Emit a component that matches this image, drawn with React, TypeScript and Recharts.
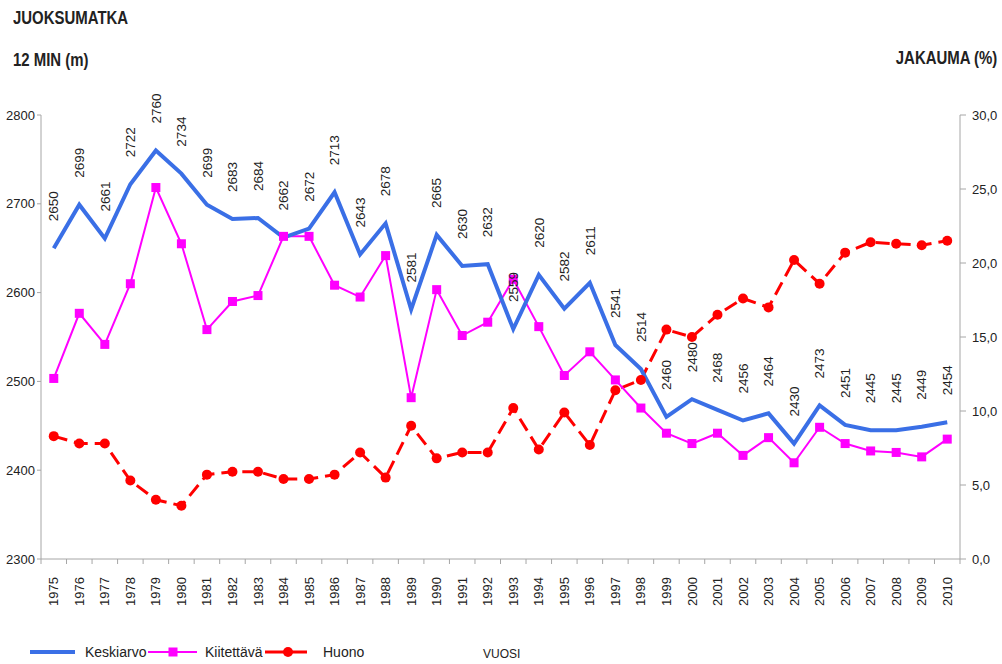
import React from "react";
import {
  LineChart,
  Line,
  XAxis,
  YAxis,
  LabelList,
} from "recharts";

const years = [
  "1975", "1976", "1977", "1978", "1979", "1980", "1981", "1982", "1983", "1984",
  "1985", "1986", "1987", "1988", "1989", "1990", "1991", "1992", "1993", "1994",
  "1995", "1996", "1997", "1998", "1999", "2000", "2001", "2002", "2003", "2004",
  "2005", "2006", "2007", "2008", "2009", "2010",
];

// metres, left axis
const keskiarvo = [
  2650, 2699, 2661, 2722, 2760, 2734, 2699, 2683, 2684, 2662,
  2672, 2713, 2643, 2678, 2581, 2665, 2630, 2632, 2559, 2620,
  2582, 2611, 2541, 2514, 2460, 2480, 2468, 2456, 2464, 2430,
  2473, 2451, 2445, 2445, 2449, 2454,
];

// percent, right axis
const kiitettava = [
  12.2, 16.6, 14.5, 18.6, 25.1, 21.3, 15.5, 17.4, 17.8, 21.8,
  21.8, 18.5, 17.7, 20.5, 10.9, 18.2, 15.1, 16.0, 18.9, 15.7,
  12.4, 14.0, 12.1, 10.2, 8.5, 7.8, 8.5, 7.0, 8.2, 6.5,
  8.9, 7.8, 7.3, 7.2, 6.9, 8.1,
];

const huono = [
  8.3, 7.8, 7.8, 5.3, 4.0, 3.6, 5.7, 5.9, 5.9, 5.4,
  5.4, 5.7, 7.2, 5.5, 9.0, 6.8, 7.2, 7.2, 10.2, 7.4,
  9.9, 7.7, 11.4, 12.1, 15.5, 15.0, 16.5, 17.6, 17.0, 20.2,
  18.6, 20.7, 21.4, 21.3, 21.2, 21.5,
];

const leftTicks = [2300, 2400, 2500, 2600, 2700, 2800];
const rightTicks = [0, 5, 10, 15, 20, 25, 30];

const data = years.map((y, i) => ({
  year: y,
  keskiarvo: keskiarvo[i],
  kiitettava: kiitettava[i],
  huono: huono[i],
}));

const FONT = "'Liberation Sans', Arial, sans-serif";
const BLUE = "#3a6fe6";
const MAGENTA = "#ff00ff";
const RED = "#ff0000";
const AXIS = "#a6a6a6";
const BAND = 919 / years.length;

function YearTick(props: any) {
  const { x, y, payload, index } = props;
  const last = index === years.length - 1;
  return (
    <g>
      <line x1={x - BAND / 2} y1={y} x2={x - BAND / 2} y2={y + 5} stroke={AXIS} />
      {last && <line x1={x + BAND / 2} y1={y} x2={x + BAND / 2} y2={y + 5} stroke={AXIS} />}
      <text
        x={x}
        y={y + 18}
        transform={`rotate(-90, ${x}, ${y + 18})`}
        textAnchor="end"
        dy="0.35em"
        fontSize={13}
        fill="#222"
        fontFamily={FONT}
      >
        {payload.value}
      </text>
    </g>
  );
}

function ValueLabel(props: any) {
  const { x, y, value } = props;
  const ty = y - 42;
  return (
    <text
      x={x}
      y={ty}
      transform={`rotate(-90, ${x}, ${ty})`}
      textAnchor="middle"
      dy="0.35em"
      fontSize={13.5}
      fill="#222"
      fontFamily={FONT}
    >
      {value}
    </text>
  );
}

function SquareDot(props: any) {
  const { cx, cy } = props;
  return <rect x={cx - 4.5} y={cy - 4.5} width={9} height={9} fill={MAGENTA} />;
}

function CircleDot(props: any) {
  const { cx, cy } = props;
  return <circle cx={cx} cy={cy} r={5} fill={RED} />;
}

const legendText: React.CSSProperties = {
  position: "absolute",
  top: 644,
  fontSize: 14,
  color: "#222",
};

export default function App() {
  return (
    <div
      style={{
        position: "absolute",
        left: 0,
        top: 0,
        width: 1002,
        height: 664,
        background: "#fff",
        fontFamily: FONT,
        overflow: "hidden",
      }}
    >
      <div style={{ position: "absolute", left: 13, top: 8, fontSize: 18, fontWeight: "bold", transform: "scaleX(0.83)", transformOrigin: "left", color: "#222" }}>
        JUOKSUMATKA
      </div>
      <div style={{ position: "absolute", left: 13, top: 50, fontSize: 18, fontWeight: "bold", transform: "scaleX(0.83)", transformOrigin: "left", color: "#222" }}>
        12 MIN (m)
      </div>
      <div style={{ position: "absolute", right: 5, top: 48, fontSize: 18, fontWeight: "bold", transform: "scaleX(0.83)", transformOrigin: "right", color: "#222" }}>
        JAKAUMA (%)
      </div>

      <LineChart
        width={1002}
        height={664}
        data={data}
        margin={{ top: 115, right: 0, bottom: 65, left: 0 }}
        style={{ position: "absolute", left: 0, top: 0 }}
      >
        <XAxis
          dataKey="year"
          interval={0}
          height={40}
          padding={{ left: BAND / 2, right: BAND / 2 }}
          tickLine={false}
          tickSize={0}
          tickMargin={0}
          stroke={AXIS}
          tick={<YearTick />}
        />
        <YAxis
          yAxisId="left"
          orientation="left"
          width={41}
          domain={[2300, 2800]}
          ticks={leftTicks}
          interval={0}
          tickSize={4}
          tickMargin={2}
          stroke={AXIS}
          tick={{ fill: "#222", fontSize: 13, fontFamily: FONT }}
        />
        <YAxis
          yAxisId="right"
          orientation="right"
          width={42}
          domain={[0, 30]}
          ticks={rightTicks}
          interval={0}
          tickSize={6}
          tickMargin={6}
          stroke={AXIS}
          tickFormatter={(v: number) => v.toFixed(1).replace(".", ",")}
          tick={{ fill: "#222", fontSize: 13, fontFamily: FONT }}
        />
        <Line
          yAxisId="right"
          dataKey="huono"
          stroke={RED}
          strokeWidth={3}
          strokeDasharray="14 7"
          dot={<CircleDot />}
          activeDot={false}
          isAnimationActive={false}
        />
        <Line
          yAxisId="right"
          dataKey="kiitettava"
          stroke={MAGENTA}
          strokeWidth={2}
          dot={<SquareDot />}
          activeDot={false}
          isAnimationActive={false}
        />
        <Line
          yAxisId="left"
          dataKey="keskiarvo"
          stroke={BLUE}
          strokeWidth={4}
          dot={false}
          activeDot={false}
          isAnimationActive={false}
        >
          <LabelList dataKey="keskiarvo" content={<ValueLabel />} />
        </Line>
      </LineChart>

      <svg width={1002} height={664} style={{ position: "absolute", left: 0, top: 0, pointerEvents: "none" }}>
        <line x1={30} y1={652} x2={75} y2={652} stroke={BLUE} strokeWidth={4} />
        <line x1={148} y1={652} x2={197} y2={652} stroke={MAGENTA} strokeWidth={2} />
        <rect x={168.5} y={647.5} width={9} height={9} fill={MAGENTA} />
        <line x1={265} y1={652} x2={307} y2={652} stroke={RED} strokeWidth={3} />
        <circle cx={288} cy={652} r={5} fill={RED} />
      </svg>
      <div style={{ ...legendText, left: 85 }}>Keskiarvo</div>
      <div style={{ ...legendText, left: 205 }}>Kiitettävä</div>
      <div style={{ ...legendText, left: 323 }}>Huono</div>
      <div style={{ ...legendText, left: 483, top: 647, fontSize: 12 }}>VUOSI</div>
    </div>
  );
}
